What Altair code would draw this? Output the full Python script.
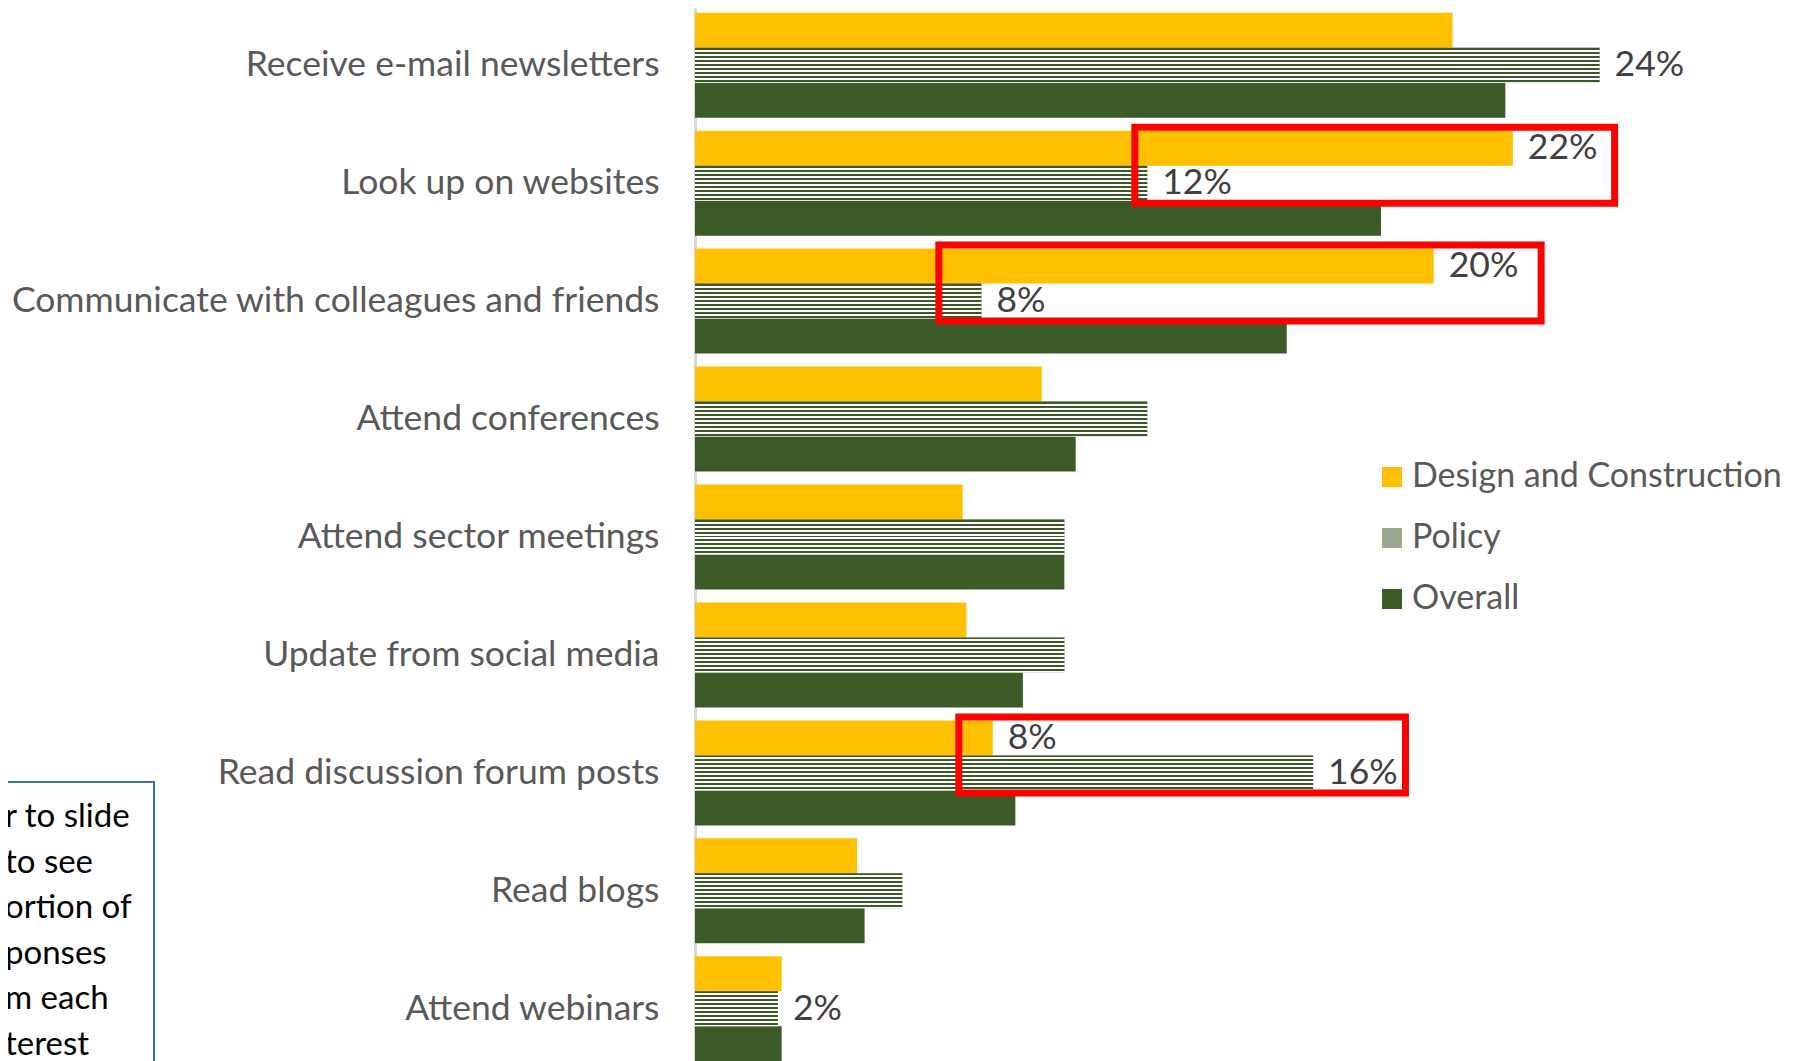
import altair as alt
import pandas as pd

categories = [
    "Receive e-mail newsletters",
    "Look up on websites",
    "Communicate with colleagues and friends",
    "Attend conferences",
    "Attend sector meetings",
    "Update from social media",
    "Read discussion forum posts",
    "Read blogs",
    "Attend webinars",
]
series_names = ["Design and Construction", "Policy", "Overall"]
design = [20.1, 21.7, 19.6, 9.2, 7.1, 7.2, 7.9, 4.3, 2.3]
policy = [24.0, 12.0, 7.6, 12.0, 9.8, 9.8, 16.4, 5.5, 2.2]
overall = [21.5, 18.2, 15.7, 10.1, 9.8, 8.7, 8.5, 4.5, 2.3]

# bars that carry a value label
labelled = [
    ("Receive e-mail newsletters", "Policy"),
    ("Look up on websites", "Design and Construction"),
    ("Look up on websites", "Policy"),
    ("Communicate with colleagues and friends", "Design and Construction"),
    ("Communicate with colleagues and friends", "Policy"),
    ("Read discussion forum posts", "Design and Construction"),
    ("Read discussion forum posts", "Policy"),
    ("Attend webinars", "Policy"),
]

# highlight boxes (category, start %, end %)
box_cats = ["Look up on websites", "Communicate with colleagues and friends", "Read discussion forum posts"]
box_start = [11.67, 6.47, 7.0]
box_end = [24.4, 22.45, 18.85]

note_lines = ["r to slide", " to see", "ortion of", "ponses", "m each", "terest"]

rows = []
for i, c in enumerate(categories):
    for s, vals in zip(series_names, [design, policy, overall]):
        rows.append({"category": c, "series": s, "value": vals[i],
                     "show": (c, s) in labelled})
df = pd.DataFrame(rows)
boxes = pd.DataFrame({"category": box_cats, "x0": box_start, "x1": box_end})
note = pd.DataFrame({"text": ["\n".join(note_lines)]})

FONT = "Lato"
GREEN = "#3C5A27"
FS = 35.5

# striped fill imitating the dotted pattern of the Policy bars
stops = []
h = 35.0
k = 0
while k < h:
    a, b, c2 = k / h, min((k + 2) / h, 1.0), min((k + 4) / h, 1.0)
    stops += [{"offset": a, "color": GREEN}, {"offset": b, "color": GREEN},
              {"offset": b, "color": "#ffffff"}, {"offset": c2, "color": "#ffffff"}]
    k += 4
pattern = {"gradient": "linear", "x1": 0, "y1": 0, "x2": 0, "y2": 1, "stops": stops}

Y = alt.Y(
    "category:N",
    sort=categories,
    scale=alt.Scale(range=[0, 1058], paddingInner=0.11, paddingOuter=0.04),
    axis=alt.Axis(
        title=None, ticks=False, labelPadding=36, labelFont=FONT, labelFontSize=FS,
        labelColor="#595959", domainColor="#D9D9D9", domainWidth=3, labelLimit=800,
    ),
)
YO = alt.YOffset("series:N", sort=series_names, scale=alt.Scale(domain=series_names))
X = alt.X("value:Q", scale=alt.Scale(domain=[0, 29], nice=False, zero=True), axis=None)

bars = alt.Chart(df).mark_bar().encode(
    x=X, y=Y, yOffset=YO,
    color=alt.Color(
        "series:N",
        scale=alt.Scale(domain=series_names, range=["#FFC000", "#9AA98F", GREEN]),
        legend=alt.Legend(
            title=None, orient="none", legendX=680, legendY=452, symbolType="square",
            symbolSize=400, symbolStrokeWidth=0, labelFont=FONT, labelFontSize=34,
            labelColor="#595959", rowPadding=27, labelOffset=3, padding=0,
            labelLimit=600,
        ),
    ),
)

policy_bars = alt.Chart(df).transform_filter(alt.datum.series == "Policy").mark_bar(
    fill=pattern
).encode(x=X, y=Y, yOffset=YO)

labels = alt.Chart(df).transform_filter(alt.datum.show).transform_calculate(
    label="format(datum.value, '.0f') + '%'"
).mark_text(
    align="left", baseline="middle", dx=15, font=FONT, fontSize=FS, color="#404040"
).encode(x=X, y=Y, yOffset=YO, text="label:N")

red_boxes = alt.Chart(boxes).mark_bar(
    height=76, yOffset=-18, fillOpacity=0, stroke="#FF0000", strokeWidth=7
).encode(
    x=alt.X("x0:Q", scale=alt.Scale(domain=[0, 29], nice=False), axis=None),
    x2="x1:Q",
    y=Y,
)

note_box = alt.Chart(note).mark_rect(
    fillOpacity=0, stroke="#41719C", strokeWidth=2
).encode(x=alt.value(-900), x2=alt.value(-541), y=alt.value(774), y2=alt.value(1300))

note_text = alt.Chart(note).mark_text(
    align="left", baseline="top", lineBreak="\n", lineHeight=45.5,
    font=FONT, fontSize=33, color="#000000"
).encode(x=alt.value(-690), y=alt.value(793), text="text:N")

chart = alt.layer(bars, policy_bars, labels, red_boxes, note_box, note_text).properties(
    width=1093, height=1053,
    autosize=alt.AutoSizeParams(type="none"),
    padding={"left": 687, "top": 0, "right": 12, "bottom": 0},
    background="white",
).configure_view(strokeWidth=0)

chart.save("out.html", embed_options={"renderer": "svg", "actions": False})
